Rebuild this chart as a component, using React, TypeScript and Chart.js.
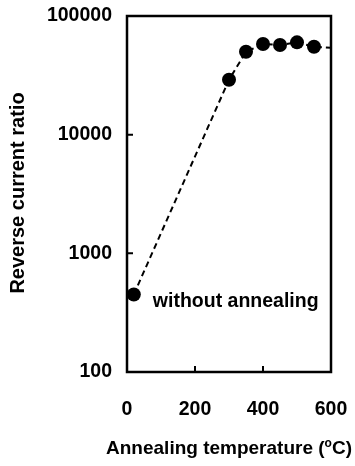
import React, { useEffect, useRef } from "react";
import { Chart, registerables } from "chart.js";

Chart.register(...registerables);

const tempX = [20, 300, 350, 400, 450, 500, 550];
const ratioY = [450, 29000, 50000, 58000, 57000, 60000, 55000];
const lineX = [20, 300, 350, 400, 450, 500, 550, 600];
const lineY = [450, 29000, 50000, 58000, 57000, 60000, 55000, 54000];
const yTickValues = [100, 1000, 10000, 100000];
const xTickValues = [0, 200, 400, 600];
const annotationText = "without annealing";
const annotationAt = { x: 76, y: 390 };
const yTitle = "Reverse current ratio";
const xTitleParts = ["Annealing temperature (", "o", "C)"];

const FONT = "'Liberation Sans', Arial, sans-serif";

const framePlugin = {
  id: "frame",
  afterDraw(chart: any) {
    const { ctx, chartArea: a, scales } = chart;
    const xs = scales.x;
    const ys = scales.y;
    ctx.save();
    ctx.strokeStyle = "#000";
    ctx.lineWidth = 2.5;
    ctx.strokeRect(a.left, a.top, a.right - a.left, a.bottom - a.top);
    ctx.lineWidth = 2;
    ctx.beginPath();
    for (const v of yTickValues.slice(1, -1)) {
      const p = ys.getPixelForValue(v);
      ctx.moveTo(a.left, p);
      ctx.lineTo(a.left + 6, p);
    }
    for (const v of xTickValues.slice(1, -1)) {
      const p = xs.getPixelForValue(v);
      ctx.moveTo(p, a.bottom);
      ctx.lineTo(p, a.bottom - 6);
    }
    ctx.stroke();

    ctx.fillStyle = "#000";
    // annotation
    ctx.font = `bold 19.5px ${FONT}`;
    ctx.textAlign = "left";
    ctx.textBaseline = "middle";
    ctx.fillText(
      annotationText,
      xs.getPixelForValue(annotationAt.x),
      ys.getPixelForValue(annotationAt.y)
    );

    // y title
    ctx.save();
    ctx.translate(24, 193);
    ctx.rotate(-Math.PI / 2);
    ctx.font = `bold 20px ${FONT}`;
    ctx.textAlign = "center";
    ctx.textBaseline = "alphabetic";
    ctx.fillText(yTitle, 0, 0);
    ctx.restore();

    // x title with superscript
    const big = `bold 19px ${FONT}`;
    const small = `bold 12px ${FONT}`;
    ctx.font = big;
    const w1 = ctx.measureText(xTitleParts[0]).width;
    const w3 = ctx.measureText(xTitleParts[2]).width;
    ctx.font = small;
    const w2 = ctx.measureText(xTitleParts[1]).width;
    const total = w1 + w2 + w3;
    const x0 = (a.left + a.right) / 2 - total / 2;
    const yb = 454;
    ctx.textAlign = "left";
    ctx.textBaseline = "alphabetic";
    ctx.font = big;
    ctx.fillText(xTitleParts[0], x0, yb);
    ctx.font = small;
    ctx.fillText(xTitleParts[1], x0 + w1, yb - 7);
    ctx.font = big;
    ctx.fillText(xTitleParts[2], x0 + w1 + w2, yb);
    ctx.restore();
  },
};

export default function App() {
  const ref = useRef<HTMLCanvasElement | null>(null);
  useEffect(() => {
    if (!ref.current) return;
    const chart = new Chart(ref.current, {
      type: "scatter",
      data: {
        datasets: [
          {
            data: tempX.map((x, i) => ({ x, y: ratioY[i] })),
            pointRadius: 7,
            pointHoverRadius: 7,
            backgroundColor: "#000",
            borderColor: "#000",
            borderWidth: 0,
            showLine: false,
            order: 0,
          },
          {
            data: lineX.map((x, i) => ({ x, y: lineY[i] })),
            showLine: true,
            borderColor: "#000",
            borderWidth: 2,
            borderDash: [6, 4],
            pointRadius: 0,
            pointHoverRadius: 0,
            fill: false,
            order: 1,
          },
        ],
      },
      options: {
        animation: false,
        responsive: false,
        events: [],
        layout: { padding: { top: 16, right: 24, left: 0, bottom: 0 } },
        plugins: { legend: { display: false }, tooltip: { enabled: false } },
        scales: {
          x: {
            type: "linear",
            min: 0,
            max: 600,
            afterBuildTicks: (s: any) => {
              s.ticks = xTickValues.map((v) => ({ value: v }));
            },
            afterFit: (s: any) => {
              s.height = 466 - 372;
              s.paddingLeft = 0;
              s.paddingRight = 0;
            },
            grid: { display: false, drawTicks: false },
            border: { display: false },
            ticks: {
              color: "#000",
              font: { family: FONT, size: 19.5, weight: "bold" },
              padding: 26,
              maxRotation: 0,
              callback: (v: any) => String(v),
            },
          },
          y: {
            type: "logarithmic",
            min: 100,
            max: 100000,
            afterBuildTicks: (s: any) => {
              s.ticks = yTickValues.map((v) => ({ value: v }));
            },
            afterFit: (s: any) => {
              s.width = 127;
              s.paddingTop = 0;
              s.paddingBottom = 0;
            },
            grid: { display: false, drawTicks: false },
            border: { display: false },
            ticks: {
              color: "#000",
              font: { family: FONT, size: 19.5, weight: "bold" },
              padding: 15,
              callback: (v: any) => String(v),
            },
          },
        },
      },
      plugins: [framePlugin],
    } as any);
    return () => chart.destroy();
  }, []);
  return (
    <div style={{ position: "absolute", left: 0, top: 0, width: 355, height: 466 }}>
      <canvas ref={ref} width={355} height={466} style={{ display: "block" }} />
    </div>
  );
}
